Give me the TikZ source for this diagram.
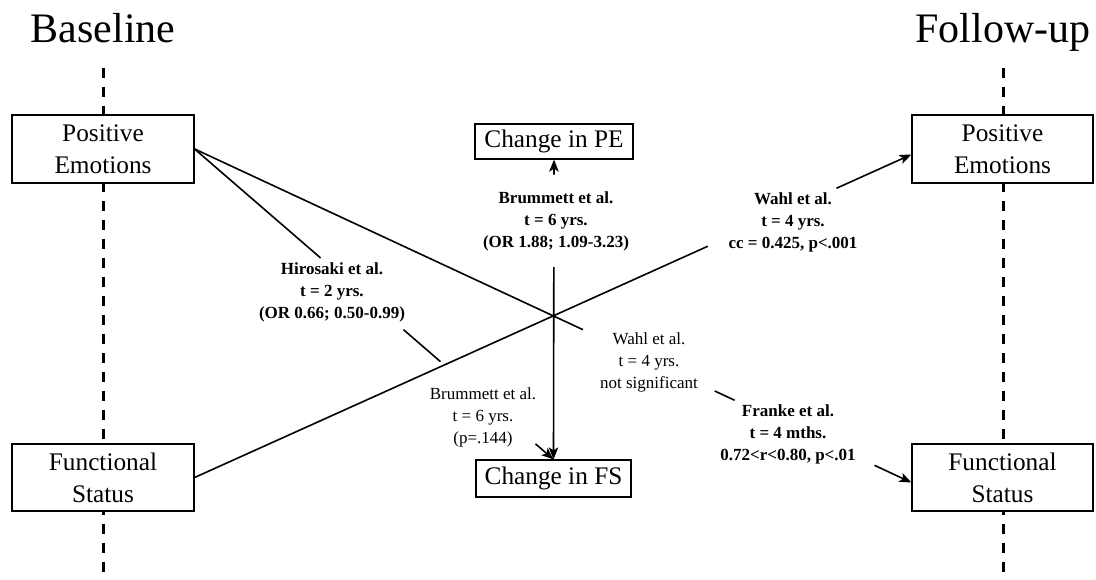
\documentclass[tikz,border=0pt]{standalone}
\usepackage{fontspec}
\setmainfont{Liberation Serif}
\usetikzlibrary{arrows.meta,calc}
\begin{document}
\begin{tikzpicture}[x=1pt,y=-1pt,
  box/.style={draw,line width=1.2pt,fill=white,align=center,font=\fontsize{25.3}{32}\selectfont,inner sep=0pt},
  lab/.style={align=center,inner sep=0pt,font=\fontsize{17}{22}\selectfont\bfseries},
  labr/.style={align=center,inner sep=0pt,font=\fontsize{17}{22}\selectfont},
  conn/.style={line width=1.6pt},
  arr/.style={conn,-{Stealth[length=12pt,width=9.5pt,inset=3pt]}},
  phase/.style={line width=3pt,dash pattern=on 10pt off 9pt},
  ttl/.style={font=\fontsize{42}{50}\selectfont,inner sep=0pt}]
\useasboundingbox (0,0) rectangle (1096,580);
% titles
\node[ttl,anchor=base] (tb) at (103,43) {Baseline};
\node[ttl,anchor=base] (tf) at (1003,43) {Follow-up};
% phase lines
\coordinate (lt) at (103,68); \coordinate (lb) at (103,582);
\coordinate (rt) at (1003,68); \coordinate (rb) at (1003,582);
\draw[phase] (lt) -- (lb);
\draw[phase] (rt) -- (rb);
% boxes
\node[box,minimum width=182pt,minimum height=68pt] (pel) at (103,149) {Positive\\Emotions};
\node[box,minimum width=182pt,minimum height=67pt] (fsl) at (103,477.5) {Functional\\Status};
\node[box,minimum width=181pt,minimum height=68pt] (per) at (1002.5,149) {Positive\\Emotions};
\node[box,minimum width=181pt,minimum height=67pt] (fsr) at (1002.5,477.5) {Functional\\Status};
\node[box,minimum width=158pt,minimum height=35pt] (cpe) at (554,141.5) {Change in PE};
\node[box,minimum width=155pt,minimum height=37pt] (cfs) at (553.5,478.5) {Change in FS};
% end points on the right boxes
\coordinate (perin) at ($(per.west)+(0,5.5)$);
\coordinate (fsrin) at ($(fsr.west)+(0,5)$);
% connector A: PE -> Change in FS
\path (pel.east) -- (cfs.north) coordinate[pos=.351] (a1) coordinate[pos=.582] (a2)
      coordinate[pos=.685] (a3) coordinate[pos=.95] (a4);
\draw[conn] (pel.east) -- (a1);
\draw[conn] (a2) -- (a3);
\draw[arr] (a4) -- (cfs.north);
% connector B: PE -> FS follow-up
\path (pel.east) -- (fsrin) coordinate[pos=.5418] (b1) coordinate[pos=.7256] (b2)
      coordinate[pos=.7535] (b3) coordinate[pos=.9485] (b4);
\draw[conn] (pel.east) -- (b1);
\draw[conn] (b2) -- (b3);
\draw[arr] (b4) -- (fsrin);
% connector C: FS -> PE follow-up
\path (fsl.east) -- (perin) coordinate[pos=.7159] (c1) coordinate[pos=.8955] (c2);
\draw[conn] (fsl.east) -- (c1);
\draw[arr] (c2) -- (perin);
% connector D: Change in FS <-> Change in PE
\path (cfs.north) -- (cpe.south) coordinate[pos=.641] (d1) coordinate[pos=.95] (d2);
\draw[arr] (d1) -- (cfs.north);
\draw[arr] (d2) -- (cpe.south);
% labels
\node[lab] (hir) at (332,292) {Hirosaki et al.\\t = 2 yrs.\\(OR 0.66; 0.50-0.99)};
\node[labr] (brr) at (483,417) {Brummett et al.\\t = 6 yrs.\\(p=.144)};
\node[lab] (brb) at (556,221) {Brummett et al.\\t = 6 yrs.\\(OR 1.88; 1.09-3.23)};
\node[labr] (wahr) at (649,362) {Wahl et al.\\t = 4 yrs.\\not significant};
\node[lab] (wahb) at (793,222) {Wahl et al.\\t = 4 yrs.\\cc = 0.425, p<.001};
\node[lab] (fra) at (788,434) {Franke et al.\\t = 4 mths.\\0.72<r<0.80, p<.01};
\end{tikzpicture}
\end{document}
